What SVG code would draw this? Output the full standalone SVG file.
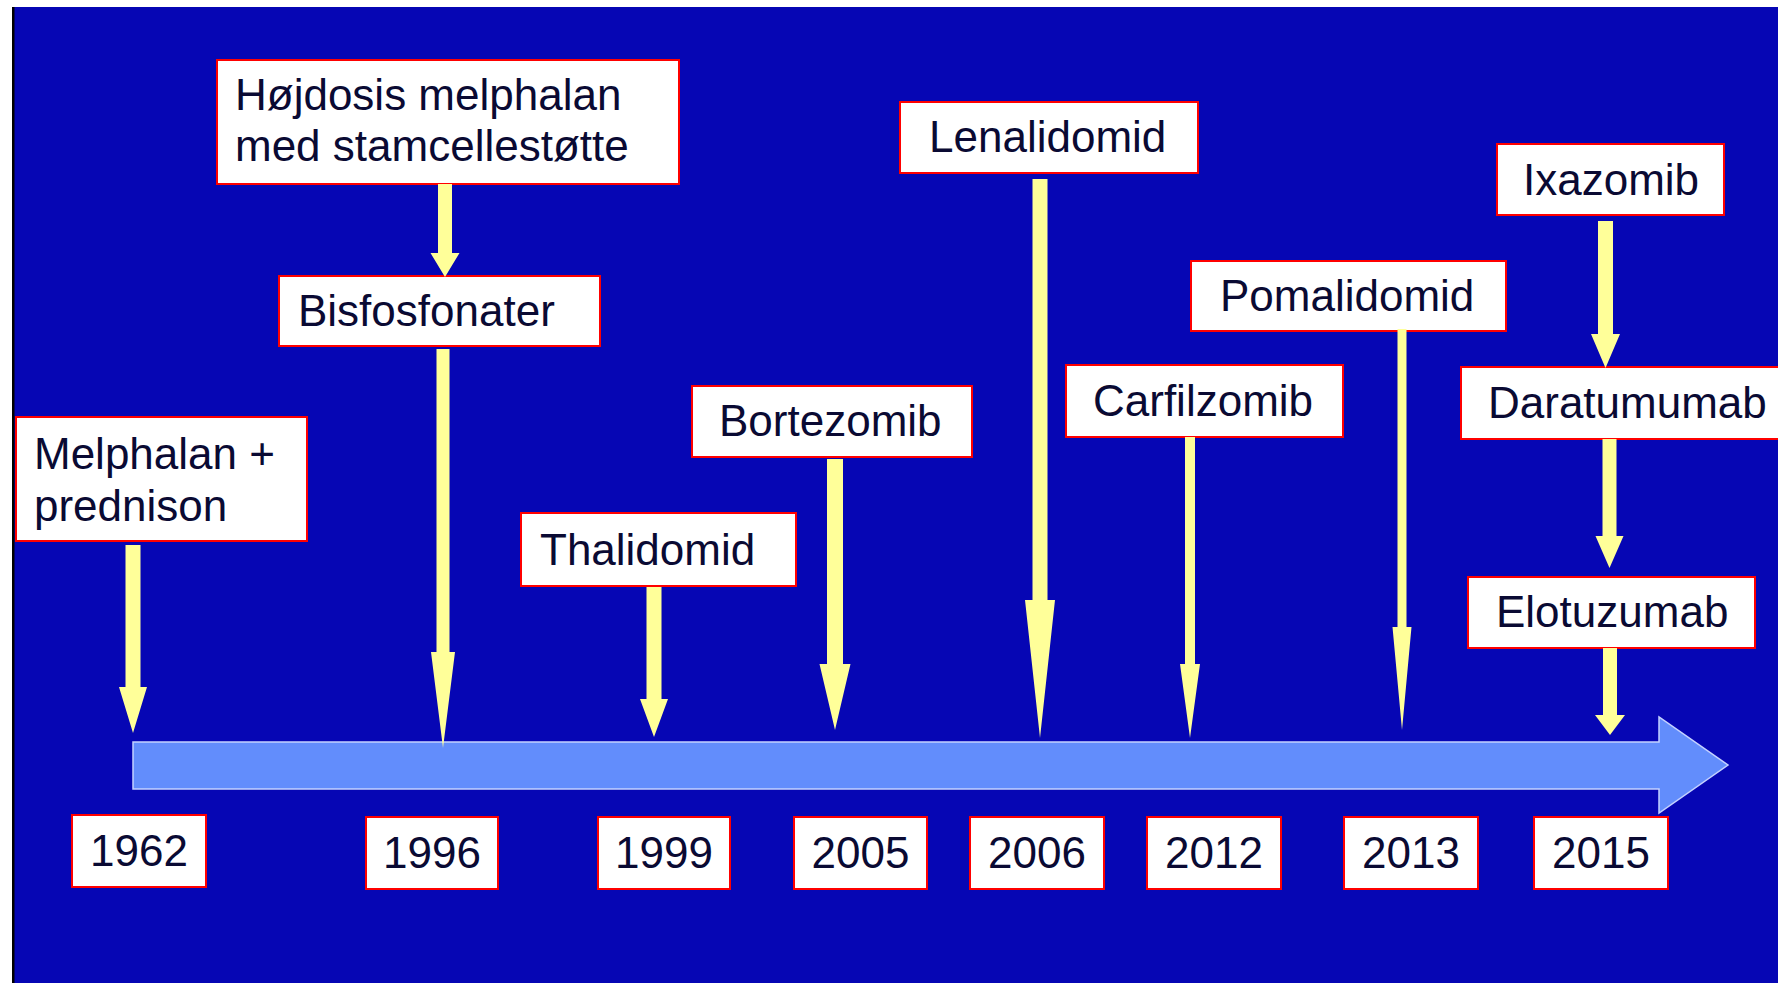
<svg xmlns="http://www.w3.org/2000/svg" width="1778" height="983" viewBox="0 0 1778 983">
  <defs>
    <style>
      .box { fill: #ffffff; stroke: #ff0000; stroke-width: 2; }
      .lbl { font-family: "Liberation Sans", Arial, sans-serif; font-size: 44px; fill: #0a0a33; }
      .yr { font-family: "Liberation Sans", Arial, sans-serif; font-size: 44px; fill: #0a0a33; text-anchor: middle; }
      .arr { fill: #ffff99; }
      .timeline { fill: #628dfc; stroke: #c4d2ff; stroke-width: 1.5; }
    </style>
  </defs>

  <rect x="0" y="0" width="1778" height="983" fill="#ffffff"/>
  <rect x="12" y="7" width="1766" height="976" fill="#0606b4"/>
  <rect x="12" y="7" width="2.5" height="976" fill="#000000"/>

  <g id="timeline">
    <polygon class="timeline" points="133,742 1659,742 1659,717 1728,765 1659,813 1659,789 133,789"/>
  </g>

  <g id="nodes">
    <g id="melphalan-prednison">
      <rect class="box" x="16" y="417" width="291" height="124"/>
      <text class="lbl" x="34" y="469">Melphalan +</text>
      <text class="lbl" x="34" y="521">prednison</text>
    </g>
    <g id="hojdosis">
      <rect class="box" x="217" y="60" width="462" height="124"/>
      <text class="lbl" x="235" y="110">Højdosis melphalan</text>
      <text class="lbl" x="235" y="161">med stamcellestøtte</text>
    </g>
    <g id="bisfosfonater">
      <rect class="box" x="279" y="276" width="321" height="70"/>
      <text class="lbl" x="298" y="326">Bisfosfonater</text>
    </g>
    <g id="thalidomid">
      <rect class="box" x="521" y="513" width="275" height="73"/>
      <text class="lbl" x="540" y="565">Thalidomid</text>
    </g>
    <g id="bortezomib">
      <rect class="box" x="692" y="386" width="280" height="71"/>
      <text class="lbl" x="719" y="436">Bortezomib</text>
    </g>
    <g id="lenalidomid">
      <rect class="box" x="900" y="102" width="298" height="71"/>
      <text class="lbl" x="929" y="152">Lenalidomid</text>
    </g>
    <g id="carfilzomib">
      <rect class="box" x="1066" y="365" width="277" height="72"/>
      <text class="lbl" x="1093" y="416">Carfilzomib</text>
    </g>
    <g id="pomalidomid">
      <rect class="box" x="1191" y="261" width="315" height="70"/>
      <text class="lbl" x="1220" y="311">Pomalidomid</text>
    </g>
    <g id="ixazomib">
      <rect class="box" x="1497" y="144" width="227" height="71"/>
      <text class="lbl" x="1523" y="195">Ixazomib</text>
    </g>
    <g id="daratumumab">
      <rect class="box" x="1461" y="367" width="340" height="72"/>
      <text class="lbl" x="1488" y="418">Daratumumab</text>
    </g>
    <g id="elotuzumab">
      <rect class="box" x="1468" y="577" width="287" height="71"/>
      <text class="lbl" x="1496" y="627">Elotuzumab</text>
    </g>

    <g id="y1962">
      <rect class="box" x="72" y="815" width="134" height="72"/>
      <text class="yr" x="139" y="866">1962</text>
    </g>
    <g id="y1996">
      <rect class="box" x="366" y="817" width="132" height="72"/>
      <text class="yr" x="432" y="868">1996</text>
    </g>
    <g id="y1999">
      <rect class="box" x="598" y="817" width="132" height="72"/>
      <text class="yr" x="664" y="868">1999</text>
    </g>
    <g id="y2005">
      <rect class="box" x="794" y="817" width="133" height="72"/>
      <text class="yr" x="860.5" y="868">2005</text>
    </g>
    <g id="y2006">
      <rect class="box" x="970" y="817" width="134" height="72"/>
      <text class="yr" x="1037" y="868">2006</text>
    </g>
    <g id="y2012">
      <rect class="box" x="1147" y="817" width="134" height="72"/>
      <text class="yr" x="1214" y="868">2012</text>
    </g>
    <g id="y2013">
      <rect class="box" x="1344" y="817" width="134" height="72"/>
      <text class="yr" x="1411" y="868">2013</text>
    </g>
    <g id="y2015">
      <rect class="box" x="1534" y="817" width="134" height="72"/>
      <text class="yr" x="1601" y="868">2015</text>
    </g>
  </g>

  <g id="connectors">
    <polygon class="arr" points="125.5,545 140.5,545 140.5,687 147,687 133,733 119,687 125.5,687"/>
    <polygon class="arr" points="438,184 452,184 452,253 459.5,253 445,277 430.5,253 438,253"/>
    <polygon class="arr" points="436.5,349 449.5,349 449.5,652 455,652 443,748 431,652 436.5,652"/>
    <polygon class="arr" points="646.5,587 661.5,587 661.5,699 668,699 654,737 640,699 646.5,699"/>
    <polygon class="arr" points="827,459 843,459 843,664 850.5,664 835,730 819.5,664 827,664"/>
    <polygon class="arr" points="1032.5,179 1047.5,179 1047.5,600 1055,600 1040,738 1025,600 1032.5,600"/>
    <polygon class="arr" points="1185,437 1195,437 1195,664 1200,664 1190,738 1180,664 1185,664"/>
    <polygon class="arr" points="1397.5,329 1406.5,329 1406.5,627 1411.5,627 1402,730 1392.5,627 1397.5,627"/>
    <polygon class="arr" points="1598,221 1613,221 1613,334 1620,334 1605.5,368 1591,334 1598,334"/>
    <polygon class="arr" points="1602.5,439 1616.5,439 1616.5,536 1623.5,536 1609.5,568 1595.5,536 1602.5,536"/>
    <polygon class="arr" points="1603,648 1617,648 1617,715 1625,715 1610,735 1595,715 1603,715"/>
  </g>
</svg>
